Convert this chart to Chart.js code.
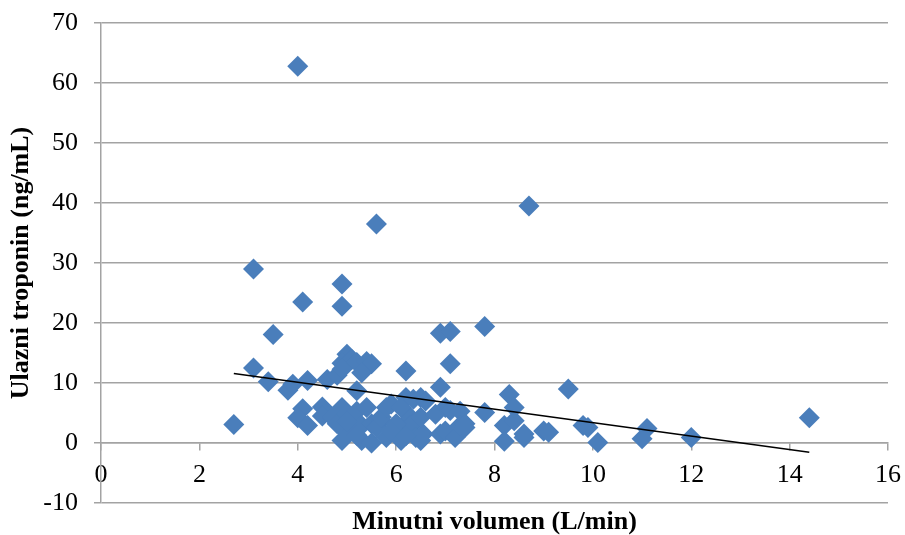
<!DOCTYPE html>
<html>
<head>
<meta charset="utf-8">
<script src="https://cdn.jsdelivr.net/npm/chart.js@4.4.1/dist/chart.umd.min.js"></script>
<style>
  html, body { margin: 0; padding: 0; background: #fff; }
  #chart { display: block; }
</style>
</head>
<body>
<canvas id="chart" width="905" height="535"></canvas>
<script>
// Minutni volumen (L/min) vs. ulazni troponin (ng/mL)
const volumen = [
  4.0, 5.6, 8.7, 3.1, 4.9, 4.1, 4.9, 3.5, 6.9, 7.1, 7.8, 7.1, 6.2, 3.1,
  3.4, 3.8, 3.9, 4.2, 4.6, 4.8, 5.0, 4.9, 5.1, 5.2, 5.4, 5.5, 4.9, 5.3, 5.2, 6.9, 9.5, 8.3,
  2.7, 4.1, 4.0, 4.2, 4.5, 4.5, 4.7, 4.8, 4.9, 5.0, 4.9, 5.1, 4.9, 5.2, 5.4, 5.3, 5.5, 5.3,
  5.5, 5.7, 5.6, 5.7, 5.8, 5.8, 5.9, 6.1, 6.1, 6.2, 6.1, 6.3, 6.35, 6.35, 6.3, 6.4, 6.5,
  6.55, 6.5, 6.6, 6.5, 6.8, 6.9, 7.0, 7.0, 7.1, 7.2, 7.3, 7.3, 7.4, 7.4, 7.8, 8.2, 8.4,
  8.2, 8.4, 8.6, 8.6, 9.0, 9.1, 9.8, 9.9, 10.1, 11.0, 11.1, 12.0, 14.4,
  6.0, 5.9, 6.2, 5.0, 5.2
];
const troponin = [
  62.8, 36.5, 39.5, 29.0, 26.5, 23.5, 22.8, 18.1, 18.3, 18.6, 19.4, 13.2, 12.0, 12.5,
  10.2, 8.8, 9.8, 10.4, 10.6, 11.3, 14.8, 13.3, 13.9, 13.4, 13.6, 13.2, 12.3, 11.7, 8.7, 9.3, 9.0, 8.1,
  3.1, 5.7, 4.2, 2.9, 6.0, 4.5, 4.3, 3.2, 5.9, 4.8, 2.6, 2.0, 0.4, 5.3, 5.9, 2.9, 3.2, 0.4,
  0.0, 3.7, 2.6, 4.3, 0.9, 5.9, 6.5, 0.4, 2.6, 7.6, 5.9, 4.2, 3.2, 7.3, 2.9, 0.9, 0.4,
  1.5, 7.6, 7.0, 4.3, 4.8, 1.5, 2.0, 5.9, 5.4, 0.9, 5.3, 2.9, 3.2, 2.6, 5.1, 2.9, 3.7,
  0.3, 5.9, 1.5, 0.9, 2.0, 1.8, 2.9, 2.6, 0.1, 0.7, 2.4, 0.9, 4.2,
  3.2, 2.0, 1.2, 3.6, 1.3
];

// linear trendline as drawn in the picture (ends of the line)
const trendX = [2.7, 14.4];
const trendY = [11.6, -1.55];

const xTitle = 'Minutni volumen (L/min)';
const yTitle = 'Ulazni troponin (ng/mL)';

const SERIF = "'Liberation Serif', 'Times New Roman', serif";
const GRID = '#a3a3a3';
const MARKER = '#4a7ebb';

const points = volumen.map((x, i) => ({ x, y: troponin[i] }));
const trend = trendX.map((x, i) => ({ x, y: trendY[i] }));

// let layout.padding alone decide where the plot area sits
function noScalePadding(scale) {
  scale.paddingTop = 0;
  scale.paddingBottom = 0;
  scale.paddingLeft = 0;
  scale.paddingRight = 0;
}

const ctx = document.getElementById('chart').getContext('2d');
const chart = new Chart(ctx, {
  type: 'scatter',
  data: {
    datasets: [
      {
        type: 'line',
        label: 'Trend',
        data: trend,
        xAxisID: 'x',
        yAxisID: 'y',
        borderColor: '#000',
        borderWidth: 1.5,
        pointRadius: 0,
        fill: false,
        order: 0
      },
      {
        label: 'Troponin',
        data: points,
        xAxisID: 'x',
        yAxisID: 'y',
        pointStyle: 'rectRot',
        pointRadius: 10.5,
        backgroundColor: MARKER,
        borderColor: MARKER,
        borderWidth: 0,
        order: 1
      }
    ]
  },
  options: {
    responsive: false,
    animation: false,
    devicePixelRatio: 1,
    layout: { padding: { left: 0, right: 17, top: 23, bottom: 0 } },
    scales: {
      x: {
        type: 'linear',
        position: { y: 0 },
        min: 0,
        max: 16,
        afterFit: noScalePadding,
        ticks: {
          stepSize: 2,
          padding: 10,
          color: '#000',
          font: { family: SERIF, size: 26 }
        },
        grid: { drawOnChartArea: false, drawTicks: true, tickLength: 7, color: GRID, lineWidth: 1.5 },
        border: { display: true, color: GRID, width: 1.5 }
      },
      // carries only the x title, so it is centred under the plot area
      xTitleAxis: {
        type: 'linear',
        axis: 'x',
        position: 'bottom',
        min: 0,
        max: 16,
        afterFit: noScalePadding,
        ticks: { display: false },
        grid: { display: false, drawTicks: false },
        border: { display: false },
        title: {
          display: true,
          text: xTitle,
          color: '#000',
          padding: { top: 6, bottom: 0 },
          font: { family: SERIF, size: 26, weight: 'bold', lineHeight: 1 }
        }
      },
      y: {
        type: 'linear',
        min: -10,
        max: 70,
        afterFit: (scale) => { noScalePadding(scale); scale.width = 101; },
        ticks: {
          stepSize: 10,
          padding: 16,
          color: '#000',
          font: { family: SERIF, size: 26 }
        },
        grid: { color: GRID, lineWidth: 1.5, drawTicks: true, tickLength: 7 },
        border: { display: true, color: GRID, width: 1.5 },
        title: {
          display: true,
          text: yTitle,
          color: '#000',
          padding: { top: 8, bottom: 0 },
          font: { family: SERIF, size: 26, weight: 'bold', lineHeight: 1 }
        }
      }
    },
    plugins: {
      legend: { display: false },
      tooltip: { enabled: false }
    }
  }
});
</script>
</body>
</html>
